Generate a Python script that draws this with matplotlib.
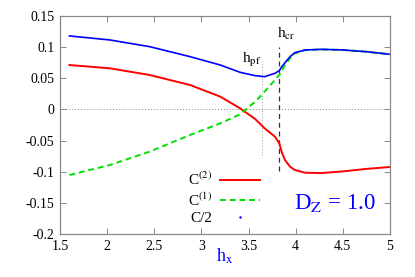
import numpy as np
import matplotlib
matplotlib.use('Agg')
import matplotlib.pyplot as plt
from matplotlib.lines import Line2D

plt.rcParams['font.family'] = ['Liberation Serif', 'DejaVu Serif']
plt.rcParams['mathtext.fontset'] = 'stix'

# values
hx = [1.6, 2.03, 2.45, 2.88, 3.2, 3.41, 3.57, 3.67, 3.78, 3.826, 3.85, 3.886, 3.94,
      3.99, 4.1, 4.27, 4.5, 4.75, 5.0]
c2 = [0.0713, 0.066, 0.0553, 0.0392, 0.0205, 0.0018, -0.0154, -0.0303, -0.0438, -0.0544,
      -0.0678, -0.0812, -0.092, -0.0972, -0.1016, -0.1022, -0.0995, -0.0955, -0.0924]
c1 = [-0.1053, -0.0892, -0.0678, -0.041, -0.0223, -0.0079, 0.0124, 0.0285, 0.0473, 0.0553,
      0.062, 0.0713, 0.082, 0.090, 0.0952, 0.0963, 0.0954, 0.0926, 0.0885]
chalf = [0.118, 0.1115, 0.1008, 0.0847, 0.0713, 0.0596, 0.0542, 0.0526, 0.058, 0.0622,
         0.068, 0.075, 0.0847, 0.0911, 0.0954, 0.0965, 0.0955, 0.0927, 0.0885]
h_pf = 3.64
h_cr = 3.826
xticks = [1.5, 2, 2.5, 3, 3.5, 4, 4.5, 5]
yticks = [-0.2, -0.15, -0.1, -0.05, 0, 0.05, 0.1, 0.15]
ylabels = ['-0.2', '-0.15', '-0.1', '-0.05', '0', '0.05', '0.1', '0.15']

fig = plt.figure(figsize=(4.15, 2.77), dpi=100)
ax = fig.add_axes([60/415, 1-234/277, 330/415, 218/277])

ax.axhline(0, color='#888888', lw=0.7, ls=(0, (1, 2)))
ax.plot([h_pf, h_pf], [-0.073, 0.077], color='#999999', lw=0.7, ls=(0, (1, 2)))
ax.plot([h_cr, h_cr], [-0.099, 0.101], color='#333333', lw=0.9, ls=(0, (4, 3)))

ax.plot(hx, c2, color='#ff0000', lw=1.4)
ax.plot(hx, c1, color='#00e000', lw=1.4, ls=(0, (3, 2)))
ax.plot(hx, chalf, color='#0000ff', lw=1.2)

ax.text(3.43, 0.0745, r'h$_{\rm pf}$', fontsize=11)
ax.text(3.80, 0.115, r'h$_{\rm cr}$', fontsize=11)
ax.text(3.98, -0.160, r'D$_{\rm Z}$ = 1.0', fontsize=16.5, color='#0000ff')

handles = [Line2D([], [], color='#ff0000', lw=1.4),
           Line2D([], [], color='#00e000', lw=1.4, ls=(0, (3, 2))),
           Line2D([], [], color='#0000ff', ls='none', marker='.', ms=1.5)]
ax.legend(handles, [r'C$^{(2)}$', r'C$^{(1)}$', 'C/2'], markerfirst=False, frameon=False,
          loc='lower left', bbox_to_anchor=(0.365, 0.005), fontsize=11, handlelength=2.6,
          labelspacing=0.2, handletextpad=0.5, borderpad=0)

ax.set_xlim(1.5, 5)
ax.set_ylim(-0.2, 0.15)
ax.set_xticks(xticks)
ax.set_xticklabels([('%g' % t) for t in xticks])
ax.set_yticks(yticks)
ax.set_yticklabels(ylabels)
ax.tick_params(direction='in', top=True, right=True, length=4, width=0.7,
               color='#888888', labelsize=10, pad=4)
for s in ax.spines.values():
    s.set_color('#888888')
    s.set_linewidth(0.9)

ax.set_xlabel(r'h$_{\rm x}$', fontsize=13, color='#0000ff')
ax.xaxis.set_label_coords(0.5, -0.06)

fig.savefig('out.png', dpi=100)
